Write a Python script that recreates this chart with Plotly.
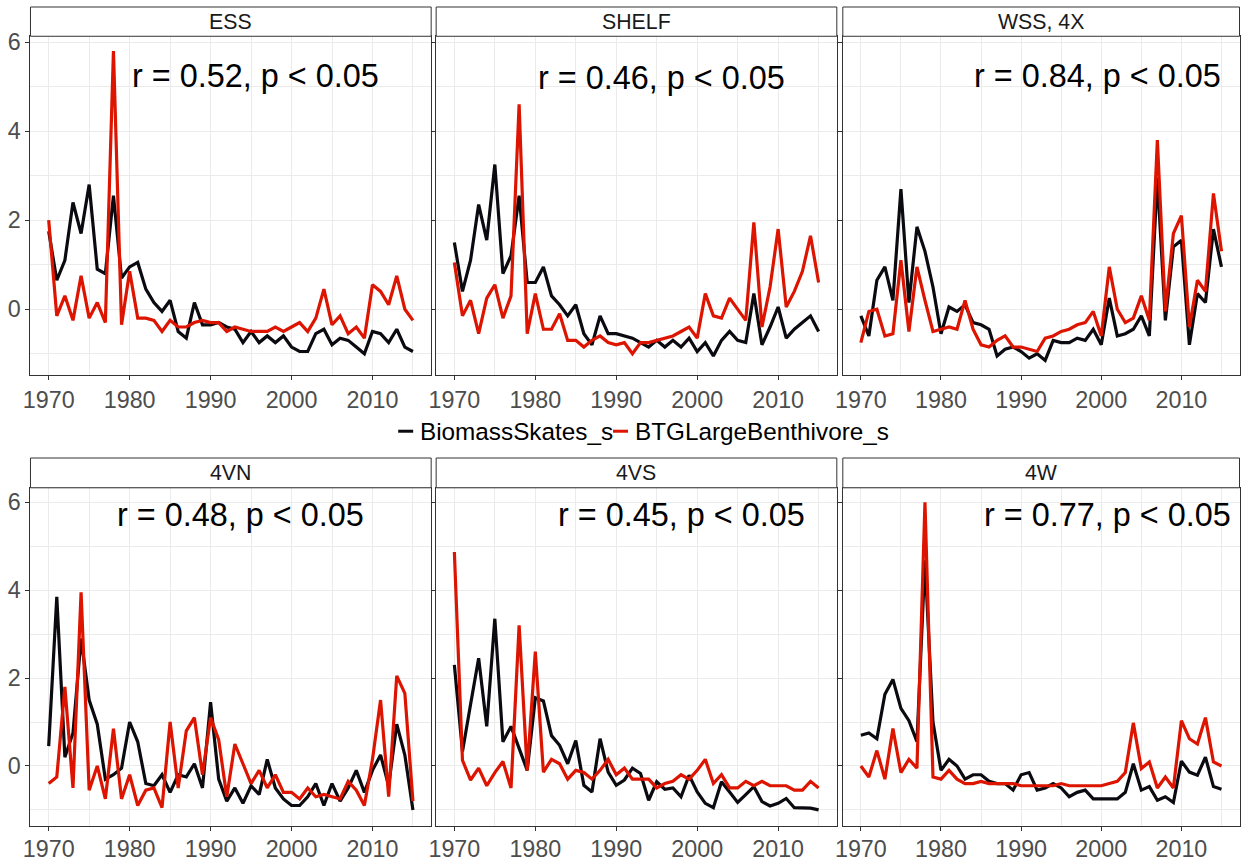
import plotly.graph_objects as go

years = list(range(1970, 2016))

panels = ["ESS", "SHELF", "WSS, 4X", "4VN", "4VS", "4W"]
series_names = ["BiomassSkates_s", "BTGLargeBenthivore_s"]

ess_skates = [1.75, 0.65, 1.1, 2.4, 1.7, 2.8, 0.9, 0.8, 2.55, 0.7, 0.95, 1.05, 0.45, 0.15, -0.05, 0.2, -0.5, -0.65, 0.15, -0.35,
              -0.35, -0.3, -0.4, -0.45, -0.75, -0.5, -0.75, -0.6, -0.75, -0.6, -0.85, -0.95, -0.95, -0.55, -0.45, -0.8,
              -0.65, -0.7, -0.85, -1.0, -0.5, -0.55, -0.75, -0.45, -0.85, -0.95]
ess_btg = [2.0, -0.15, 0.3, -0.25, 0.75, -0.2, 0.15, -0.3, 5.8, -0.35, 0.85, -0.2, -0.2, -0.25, -0.5, -0.25, -0.4, -0.4, -0.3, -0.25,
           -0.3, -0.3, -0.5, -0.4, -0.45, -0.5, -0.5, -0.5, -0.4, -0.5, -0.4, -0.3, -0.5, -0.2, 0.45, -0.35,
           -0.15, -0.55, -0.4, -0.65, 0.55, 0.4, 0.1, 0.75, 0.0, -0.25]

shelf_skates = [1.5, 0.4, 1.1, 2.35, 1.55, 3.25, 0.8, 1.2, 2.55, 0.6, 0.6, 0.95, 0.3, 0.1, -0.15, 0.1, -0.55, -0.8, -0.15, -0.55,
                -0.55, -0.6, -0.65, -0.75, -0.85, -0.7, -0.85, -0.7, -0.85, -0.65, -0.95, -0.75, -1.05, -0.7, -0.5, -0.7,
                -0.75, 0.35, -0.8, -0.4, 0.05, -0.65, -0.45, -0.3, -0.15, -0.5]
shelf_btg = [1.05, -0.15, 0.2, -0.55, 0.25, 0.55, -0.2, 0.3, 4.6, -0.55, 0.35, -0.45, -0.45, -0.1, -0.7, -0.7, -0.85, -0.7, -0.6, -0.75,
             -0.8, -0.75, -1.0, -0.75, -0.75, -0.7, -0.65, -0.6, -0.5, -0.4, -0.65, 0.35, -0.15, -0.2, 0.25, 0.0,
             -0.25, 1.95, -0.4, 0.5, 1.8, 0.05, 0.4, 0.85, 1.65, 0.6]

wss_skates = [-0.15, -0.6, 0.65, 0.95, 0.2, 2.7, 0.15, 1.85, 1.3, 0.5, -0.55, 0.05, -0.05, 0.1, -0.3, -0.35, -0.45, -1.05, -0.9, -0.85,
              -0.95, -1.1, -1.0, -1.15, -0.7, -0.75, -0.75, -0.65, -0.7, -0.45, -0.8, 0.25, -0.6, -0.55, -0.45, -0.15,
              -0.6, 2.95, -0.25, 1.4, 1.55, -0.8, 0.35, 0.15, 1.8, 0.95]
wss_btg = [-0.75, -0.05, 0.0, -0.6, -0.55, 1.1, -0.5, 0.95, 0.2, -0.5, -0.45, -0.4, -0.45, 0.2, -0.45, -0.8, -0.85, -0.7, -0.6, -0.85,
           -0.85, -0.9, -0.95, -0.65, -0.6, -0.5, -0.45, -0.35, -0.3, -0.05, -0.6, 0.95, 0.0, -0.3, -0.2, 0.3,
           -0.25, 3.8, -0.05, 1.7, 2.1, -0.4, 0.65, 0.4, 2.6, 1.3]

vn_skates = [0.45, 3.85, 0.2, 0.75, 2.9, 1.5, 0.95, -0.3, -0.2, -0.05, 1.0, 0.55, -0.4, -0.45, -0.2, -0.6, -0.2, -0.25, 0.05, -0.5,
             1.45, -0.3, -0.8, -0.5, -0.85, -0.45, -0.65, 0.15, -0.5, -0.75, -0.9, -0.9, -0.7, -0.4, -0.9, -0.4,
             -0.8, -0.5, -0.1, -0.6, -0.1, 0.25, -0.45, 0.95, 0.25, -1.0]
vn_btg = [-0.4, -0.25, 1.8, -0.5, 3.95, -0.55, 0.0, -0.75, 0.85, -0.75, -0.2, -0.9, -0.55, -0.5, -0.95, 1.0, -0.5, 0.8, 1.1, -0.2,
          1.1, 0.6, -0.7, 0.5, 0.05, -0.4, -0.1, -0.5, -0.2, -0.6, -0.6, -0.75, -0.5, -0.7, -0.65, -0.7,
          -0.75, -0.35, -0.55, -0.9, 0.15, 1.5, -0.7, 2.05, 1.65, -0.8]

vs_skates = [2.3, 0.33, 1.4, 2.45, 0.9, 3.35, 0.55, 0.9, 0.4, -0.1, 1.55, 1.48, 0.69, 0.47, 0.05, 0.58, -0.44, -0.59, 0.62, -0.14,
             -0.44, -0.32, -0.05, -0.17, -0.78, -0.36, -0.53, -0.5, -0.7, -0.21, -0.59, -0.85, -0.95, -0.36, -0.59, -0.83,
             -0.65, -0.47, -0.81, -0.91, -0.85, -0.74, -0.95, -0.95, -0.96, -1.0]
vs_btg = [4.87, 0.13, -0.32, -0.05, -0.45, -0.15, 0.1, -0.5, 3.2, -0.1, 2.6, -0.14, 0.15, 0.05, -0.3, -0.1, -0.15, -0.3, -0.1, 0.15,
          -0.2, -0.05, -0.3, -0.3, -0.3, -0.5, -0.4, -0.35, -0.2, -0.3, -0.1, 0.15, -0.4, -0.2, -0.5, -0.5,
          -0.35, -0.45, -0.35, -0.45, -0.45, -0.45, -0.55, -0.55, -0.35, -0.5]

w_skates = [0.7, 0.75, 0.62, 1.63, 1.97, 1.31, 1.03, 0.55, 4.68, 1.0, -0.1, 0.15, 0.0, -0.3, -0.2, -0.2, -0.35, -0.4, -0.4, -0.55,
            -0.2, -0.15, -0.55, -0.5, -0.4, -0.5, -0.7, -0.6, -0.55, -0.75, -0.75, -0.75, -0.75, -0.6, 0.05, -0.55,
            -0.47, -0.78, -0.7, -0.83, 0.11, -0.14, -0.21, 0.2, -0.47, -0.53]
w_btg = [0.0, -0.25, 0.35, -0.3, 0.85, -0.15, 0.15, -0.05, 6.0, -0.25, -0.3, -0.1, -0.3, -0.4, -0.4, -0.35, -0.4, -0.4, -0.4, -0.4,
         -0.45, -0.45, -0.45, -0.45, -0.45, -0.4, -0.45, -0.45, -0.45, -0.45, -0.45, -0.4, -0.35, -0.15, 0.98, -0.06,
         0.09, -0.5, -0.25, -0.5, 1.03, 0.62, 0.5, 1.1, 0.09, 0.0]

skates = [ess_skates, shelf_skates, wss_skates, vn_skates, vs_skates, w_skates]
btg = [ess_btg, shelf_btg, wss_btg, vn_btg, vs_btg, w_btg]

r_labels = ["r = 0.52, p < 0.05", "r = 0.46, p < 0.05", "r = 0.84, p < 0.05",
            "r = 0.48, p < 0.05", "r = 0.45, p < 0.05", "r = 0.77, p < 0.05"]
r_x = [1995.6, 1995.6, 1999.5, 1993.7, 1998.1, 2000.8]
r_y = [5.23, 5.2, 5.23, 5.7, 5.7, 5.7]

x_ticks = [1970, 1980, 1990, 2000, 2010]
x_minor = [1975, 1985, 1995, 2005, 2015]
y_ticks = [0, 2, 4, 6]
y_minor = [-1, 1, 3, 5]

W, H = 1241, 862
# measured capture transform: screen = OFF + paper_px * S
OFF = 7.5
SX = 1233.0 / W
SY = 847.5 / H


def fx(px):
    return min(max((px - OFF) / SX / W, 0.0), 1.0)


def fy(py):
    return min(max(1 - (py - OFF) / SY / H, 0.0), 1.0)


FONT = "Liberation Sans, Arial, sans-serif"
BLACK = "#0a0a10"
RED = "#dc1400"
BORDER = "#333333"
GRID = "#ebebeb"

cols_px = [(30, 431), (436, 837), (843, 1240)]
rows_px = [(37, 378, 7.5), (492, 833, 462)]  # plot top, plot bottom, strip top
y_ranges = [[-1.47, 6.13], [-1.37, 6.33]]
x_range = [1967.75, 2017.25]

fig = go.Figure()
layout = dict(
    margin=dict(l=0, r=0, t=0, b=0, pad=0),
    paper_bgcolor="white", plot_bgcolor="white",
    showlegend=False,
    font=dict(family=FONT),
)
shapes = []
annotations = []

for i, name in enumerate(panels):
    r, c = divmod(i, 3)
    n = i + 1
    xa = "x" if n == 1 else f"x{n}"
    ya = "y" if n == 1 else f"y{n}"
    x0p, x1p = cols_px[c]
    top, bot, stop = rows_px[r]
    xdom = [fx(x0p), fx(x1p)]
    ydom = [fy(bot), fy(top)]

    fig.add_trace(go.Scatter(x=years, y=skates[i], mode="lines", name=series_names[0],
                             line=dict(color=BLACK, width=3.2), xaxis=xa, yaxis=ya))
    fig.add_trace(go.Scatter(x=years, y=btg[i], mode="lines", name=series_names[1],
                             line=dict(color=RED, width=3.2), xaxis=xa, yaxis=ya))

    axis_common = dict(
        showgrid=True, gridcolor=GRID, gridwidth=1,
        zeroline=False, showline=True, linecolor=BORDER, linewidth=1, mirror=True,
        ticks="outside", ticklen=4, tickcolor=BORDER, tickwidth=1,
        tickfont=dict(size=23.3, color="#4d4d4d", family=FONT),
    )
    layout["xaxis" if n == 1 else f"xaxis{n}"] = dict(
        axis_common, domain=xdom, anchor=ya, range=x_range, tickvals=x_ticks,
        ticklabelstandoff=(-2 if r == 1 else 0),
        minor=dict(tickvals=x_minor, showgrid=True, gridcolor=GRID, gridwidth=0.6, ticks=""),
    )
    layout["yaxis" if n == 1 else f"yaxis{n}"] = dict(
        axis_common, domain=ydom, anchor=xa, range=y_ranges[r], tickvals=y_ticks,
        showticklabels=(c == 0),
        minor=dict(tickvals=y_minor, showgrid=True, gridcolor=GRID, gridwidth=0.6, ticks=""),
    )

    # strip
    shapes.append(dict(type="rect", xref="paper", yref="paper",
                       x0=fx(x0p), x1=fx(x1p), y0=fy(top), y1=fy(stop),
                       fillcolor="white", line=dict(color=BORDER, width=1), layer="above"))
    annotations.append(dict(xref="paper", yref="paper", x=fx((x0p + x1p) / 2),
                            y=fy((top + stop) / 2), text=name, showarrow=False,
                            xanchor="center", yanchor="middle",
                            font=dict(size=21.3, color="#1a1a1a", family=FONT)))
    # correlation label
    annotations.append(dict(xref=xa, yref=ya, x=r_x[i], y=r_y[i], text=r_labels[i],
                            showarrow=False, xanchor="center", yanchor="middle",
                            font=dict(size=32.4, color="black", family=FONT)))

# common legend between the rows
leg_y = fy(435)
legend_items = [(398, 413, 418, BLACK, series_names[0]), (613, 628, 633, RED, series_names[1])]
for kx0, kx1, tx, col, label in legend_items:
    shapes.append(dict(type="line", xref="paper", yref="paper", x0=fx(kx0), x1=fx(kx1),
                       y0=leg_y, y1=leg_y, line=dict(color=col, width=3)))
    annotations.append(dict(xref="paper", yref="paper", x=fx(tx), y=leg_y, text=label,
                            showarrow=False, xanchor="left", yanchor="middle",
                            font=dict(size=24.3, color="black", family=FONT)))

layout["shapes"] = shapes
layout["annotations"] = annotations
fig.update_layout(**layout)
fig.write_html("out.html",
               config={"displayModeBar": False},
               default_width=f"{W}px",
               default_height=f"{H}px; position:absolute; left:0px; top:0px")
